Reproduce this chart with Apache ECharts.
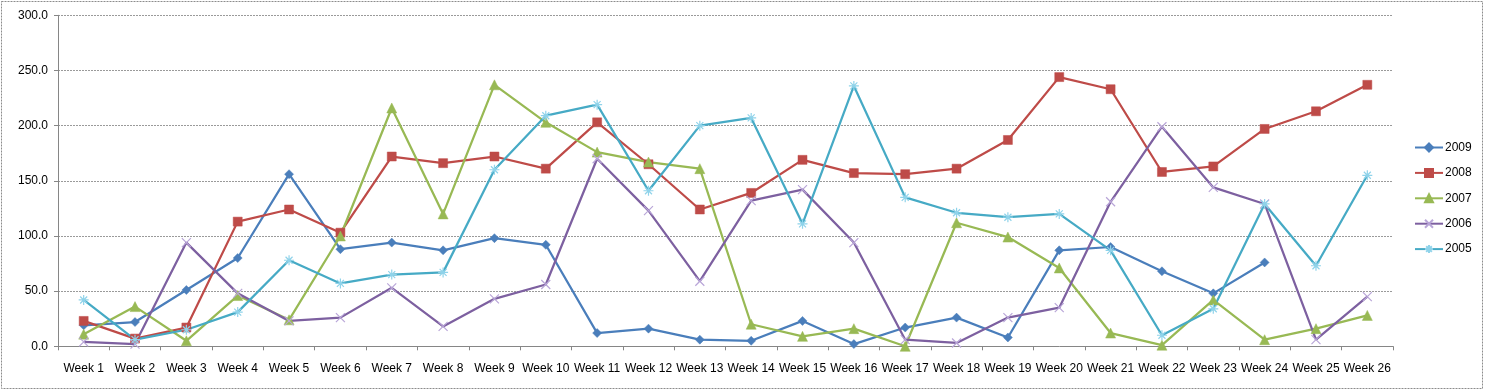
<!DOCTYPE html>
<html><head><meta charset="utf-8">
<script src="https://cdn.jsdelivr.net/npm/echarts@6/dist/echarts.min.js"></script>
<style>html,body{margin:0;padding:0;background:#fff}#c{width:1485px;height:391px}</style>
</head><body><div id="c"></div>
<script>
const categories = ['Week 1','Week 2','Week 3','Week 4','Week 5','Week 6','Week 7','Week 8','Week 9','Week 10','Week 11','Week 12','Week 13','Week 14','Week 15','Week 16','Week 17','Week 18','Week 19','Week 20','Week 21','Week 22','Week 23','Week 24','Week 25','Week 26'];
const s2009 = [19,22,51,80,156,88,94,87,98,92,12,16,6,5,23,2,17,26,8,87,90,68,48,76,null,null];
const s2008 = [23,7,17,113,124,103,172,166,172,161,203,165,124,139,169,157,156,161,187,244,233,158,163,197,213,237];
const s2007 = [11,36,5,46,24,100,216,120,237,203,176,167,161,20,9,16,0,112,99,71,12,1,42,6,16,28];
const s2006 = [4,2,94,48,23,26,53,18,43,56,170,123,59,132,142,94,6,3,26,35,131,199,144,129,6,45];
const s2005 = [42,6,15,31,78,57,65,67,160,209,219,141,200,207,111,236,135,121,117,120,87,10,34,129,73,155];
const yTicks = [0,50,100,150,200,250,300];

const chart = echarts.init(document.getElementById('c'));
const FONT = 'Liberation Sans';
function ser(name, data, color, symbol, size, extra) {
  return Object.assign({
    name, type: 'line', data, symbol, symbolSize: size,
    connectNulls: false,
    lineStyle: { color, width: 2.25 },
    itemStyle: { color, borderColor: color, borderWidth: 0.5 },
    emphasis: { disabled: true }
  }, extra || {});
}
const xPath = 'path://M0,0L10,10M10,0L0,10';
const astPath = 'path://M0,5L10,5M5,0L5,10M1.5,1.5L8.5,8.5M8.5,1.5L1.5,8.5';
chart.setOption({
  animation: false,
  textStyle: { fontFamily: FONT },
  graphic: [{ type: 'rect', shape: { x: 1.5, y: 1.5, width: 1481, height: 387 },
    style: { fill: 'none', stroke: '#8c8c8c', lineWidth: 1, lineDash: [2, 1] }, silent: true }],
  grid: { left: 58, right: 92, top: 15.3, bottom: 44.7 },
  legend: {
    orient: 'vertical', left: 1414, top: 141.5, padding: 0, itemGap: 13.4, itemWidth: 28, itemHeight: 10,
    textStyle: { fontFamily: FONT, fontSize: 12, color: '#000', padding: [0, 0, 0, -3] },
    data: ['2009','2008','2007','2006','2005']
  },
  xAxis: {
    type: 'category', data: categories, boundaryGap: true,
    axisLine: { lineStyle: { color: '#868686' } },
    axisTick: { show: true, length: 4, lineStyle: { color: '#868686' } },
    axisLabel: { color: '#000', fontSize: 12, margin: 16, fontFamily: FONT, interval: 0 },
    splitLine: { show: false }
  },
  yAxis: {
    type: 'value', min: yTicks[0], max: yTicks[yTicks.length-1], interval: 50,
    axisLine: { show: true, lineStyle: { color: '#868686' } },
    axisTick: { show: true, length: 4, lineStyle: { color: '#868686' } },
    axisLabel: { color: '#000', fontSize: 12, margin: 10, fontFamily: FONT, formatter: v => v.toFixed(1) },
    splitLine: { lineStyle: { color: '#9a9a9a', type: [2, 1], width: 1 } }
  },
  series: [
    ser('2009', s2009, '#4A7EBB', 'diamond', 9),
    ser('2008', s2008, '#BE4B48', 'rect', 9),
    ser('2007', s2007, '#98B954', 'triangle', 10),
    ser('2006', s2006, '#7D60A0', xPath, 9, { itemStyle: { color: '#7D60A0', borderColor: '#B9A6D8', borderWidth: 1.2 } }),
    ser('2005', s2005, '#46AAC5', astPath, 10, { itemStyle: { color: '#46AAC5', borderColor: '#8FD3EA', borderWidth: 1.2 } })
  ]
});
</script></body></html>
